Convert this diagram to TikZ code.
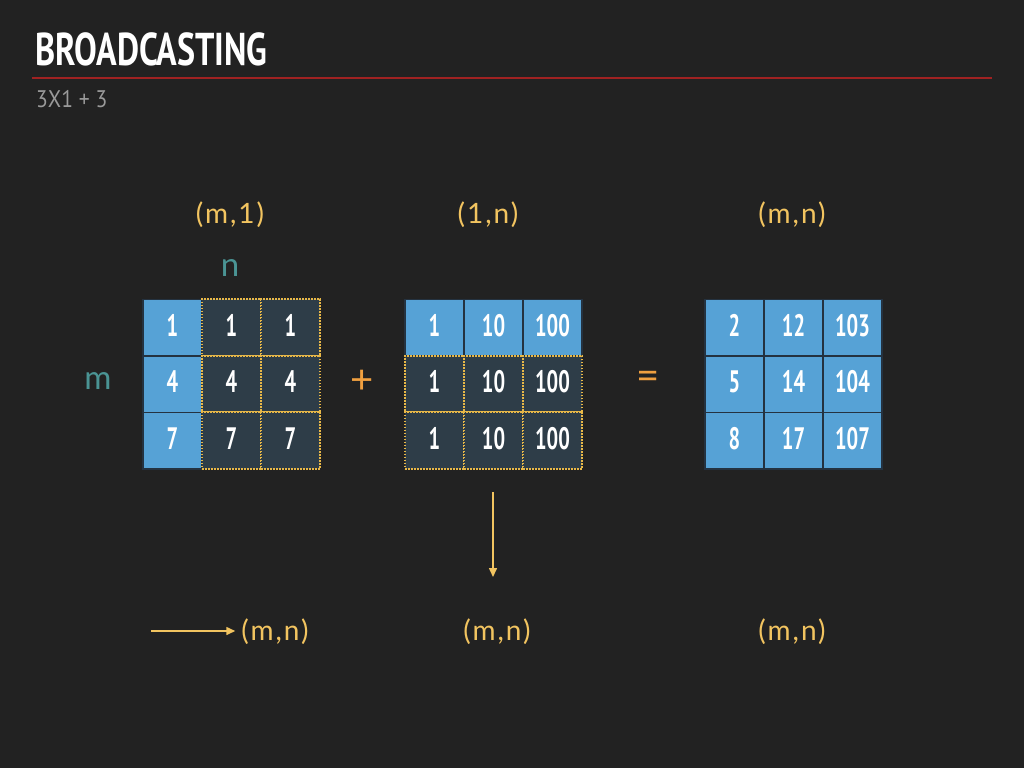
\documentclass[tikz,border=0pt]{standalone}
\usepackage{fontspec}
\setmainfont{Lato}
\newfontfamily\din[FakeStretch=0.66]{PT Sans}
\newfontfamily\dintitle[FakeStretch=0.74]{PT Sans}
\newfontfamily\subfont[FakeStretch=0.9]{PT Sans}
\newfontfamily\labfont[LetterSpace=7]{Lato}
\usetikzlibrary{arrows.meta,calc}
\definecolor{bg}{HTML}{222222}
\definecolor{cellblue}{HTML}{56A2D6}
\definecolor{celldark}{HTML}{2E3D48}
\definecolor{cellline}{HTML}{243240}
\definecolor{gold}{HTML}{E8B848}
\definecolor{labyel}{HTML}{F2C460}
\definecolor{teal}{HTML}{4A9494}
\definecolor{opor}{HTML}{F0A040}
\definecolor{redline}{HTML}{A02222}
\definecolor{subgray}{HTML}{9A9A9A}
\begin{document}
\begin{tikzpicture}[x=1pt,y=-1pt,
  cellbase/.style={minimum width=59pt,minimum height=56.5pt,inner sep=0pt,outer sep=0pt,
    text height=22pt,text depth=5pt,
    font=\din\bfseries\fontsize{31}{31}\selectfont,text=white},
  bluecell/.style={cellbase,fill=cellblue,draw=cellline,line width=1.5pt},
  darkcell/.style={cellbase,fill=celldark,draw=gold,line width=1.6pt,dash pattern=on 1.6pt off 1.4pt},
  shapelab/.style={font=\labfont\fontsize{28}{28}\selectfont,text=labyel,inner sep=0pt},
  dimlab/.style={font=\fontsize{33}{33}\selectfont,text=teal,inner sep=0pt},
  oplab/.style={font=\fontsize{40}{40}\selectfont,text=opor,inner sep=0pt},
  arr/.style={draw=labyel,line width=1.5pt,-{Triangle[length=9pt,width=8pt]}}]
\fill[bg] (0,0) rectangle (1024,768);
\useasboundingbox (0,0) rectangle (1024,768);
% title
\node[anchor=base west,inner sep=0pt,text=white,font=\dintitle\bfseries\fontsize{46}{46}\selectfont] (title) at (35,65) {BROADCASTING};
\coordinate (rl) at (32,78);
\coordinate (rr) at (992,78);
\draw[redline,line width=2pt] (rl) -- (rr);
\node[anchor=base west,inner sep=0pt,text=subgray,font=\subfont\fontsize{24}{24}\selectfont] (sub) at (36,107) {3X1 + 3};
% matrix 1
\node[bluecell] (a11) at (172.5,327.5) {1};
\node[bluecell] (a21) at (172.5,384) {4};
\node[bluecell] (a31) at (172.5,440.5) {7};
\node[darkcell] (a12) at (231.5,327.5) {1};
\node[darkcell] (a13) at (290.5,327.5) {1};
\node[darkcell] (a22) at (231.5,384) {4};
\node[darkcell] (a23) at (290.5,384) {4};
\node[darkcell] (a32) at (231.5,440.5) {7};
\node[darkcell] (a33) at (290.5,440.5) {7};
% matrix 2
\node[bluecell] (b11) at (434.5,327.5) {1};
\node[bluecell] (b12) at (493.5,327.5) {10};
\node[bluecell] (b13) at (552.5,327.5) {100};
\node[darkcell] (b21) at (434.5,384) {1};
\node[darkcell] (b22) at (493.5,384) {10};
\node[darkcell] (b23) at (552.5,384) {100};
\node[darkcell] (b31) at (434.5,440.5) {1};
\node[darkcell] (b32) at (493.5,440.5) {10};
\node[darkcell] (b33) at (552.5,440.5) {100};
% matrix 3
\node[bluecell] (c11) at (734.5,327.5) {2};
\node[bluecell] (c12) at (793.5,327.5) {12};
\node[bluecell] (c13) at (852.5,327.5) {103};
\node[bluecell] (c21) at (734.5,384) {5};
\node[bluecell] (c22) at (793.5,384) {14};
\node[bluecell] (c23) at (852.5,384) {104};
\node[bluecell] (c31) at (734.5,440.5) {8};
\node[bluecell] (c32) at (793.5,440.5) {17};
\node[bluecell] (c33) at (852.5,440.5) {107};
% shape labels
\node[shapelab] (s1) at (230,215) {(m,1)};
\node[shapelab] (s2) at (488,215) {(1,n)};
\node[shapelab] (s3) at (792,215) {(m,n)};
\node[dimlab] (dn) at (230,268) {n};
\node[dimlab] (dm) at (98,381) {m};
\node[oplab] (plus) at (362,382) {+};
\node[oplab] (eq) at (648,380) {=};
% bottom
\node[shapelab] (mn1) at (275,632) {(m,n)};
\node[shapelab] (mn2) at (497,632) {(m,n)};
\node[shapelab] (mn3) at (792,632) {(m,n)};
\coordinate (hs) at (151,631);
\draw[arr] (hs) -- ([xshift=-6pt]hs -| mn1.west);
\coordinate (vs) at (493,492);
\coordinate (ve) at (493,577);
\draw[arr] (vs) -- (ve);
\end{tikzpicture}
\end{document}
